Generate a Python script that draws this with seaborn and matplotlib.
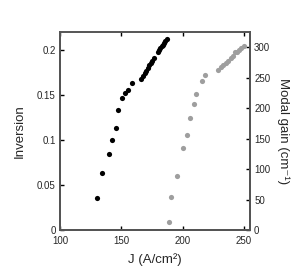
import matplotlib
matplotlib.use('Agg')
import matplotlib.pyplot as plt
import seaborn as sns
import pandas as pd

# inversion vs current density (black)
j_inv = [130, 134.2, 139.6, 142.4, 145.6, 147, 151, 153.3, 155.5, 158.7,
         166, 167.5, 169, 170.3, 171.6, 172.8, 174, 175.2, 176.5,
         180, 181, 182, 183, 184, 185, 186, 187]
inversion = [0.036, 0.064, 0.085, 0.100, 0.113, 0.134, 0.147, 0.152, 0.156, 0.164,
             0.168, 0.171, 0.174, 0.177, 0.180, 0.183, 0.186, 0.188, 0.191,
             0.198, 0.200, 0.202, 0.204, 0.206, 0.208, 0.210, 0.212]

# modal gain vs current density (gray)
j_gain = [189.3, 190.7, 195.3, 200, 203.5, 206.3, 209.6, 210.9, 215.6, 218.3,
          229.3, 231.7, 233.3, 235.2, 237.1, 239.3, 241.2, 242.9, 244.3, 246.2, 248.1, 250.3]
gain = [14, 55, 88, 135, 156, 184, 207, 224, 244, 255,
        262, 268, 271, 275, 278, 282, 285, 292, 293, 296, 299, 303]

df1 = pd.DataFrame({'J': j_inv, 'inv': inversion})
df2 = pd.DataFrame({'J': j_gain, 'gain': gain})

sns.set_style('ticks')
plt.rcParams['font.family'] = ['Liberation Sans', 'DejaVu Sans']

fig = plt.figure(figsize=(3.0, 2.72), dpi=100)
ax = fig.add_axes([0.2, 0.154, 0.633, 0.728])
ax2 = ax.twinx()

sns.scatterplot(data=df1, x='J', y='inv', ax=ax, color='black', s=14, linewidth=0)
sns.scatterplot(data=df2, x='J', y='gain', ax=ax2, color='#9e9e9e', s=14, linewidth=0)

ax.set_xlim(100, 255)
ax.set_ylim(0, 0.22)
ax2.set_ylim(0, 325)
ax.set_xticks([100, 150, 200, 250])
ax.set_yticks([0, 0.05, 0.1, 0.15, 0.2])
ax.set_yticklabels(['0', '0.05', '0.1', '0.15', '0.2'])
ax2.set_yticks([0, 50, 100, 150, 200, 250, 300])

ax.set_xlabel('J (A/cm²)', fontsize=9.5, labelpad=5)
ax.set_ylabel('Inversion', fontsize=9.5, labelpad=8)
ax2.set_ylabel('Modal gain (cm⁻¹)', fontsize=9.5, rotation=270, labelpad=14)

spine_c = '#555555'
for a in (ax, ax2):
    for sp in a.spines.values():
        sp.set_color(spine_c)
        sp.set_linewidth(1.4)
    a.tick_params(direction='in', length=3, width=1, color='black', labelsize=7, pad=3)
ax.tick_params(axis='x', top=True, pad=4.5)
ax2.spines['top'].set_visible(False)

fig.savefig('out.png', dpi=100)
